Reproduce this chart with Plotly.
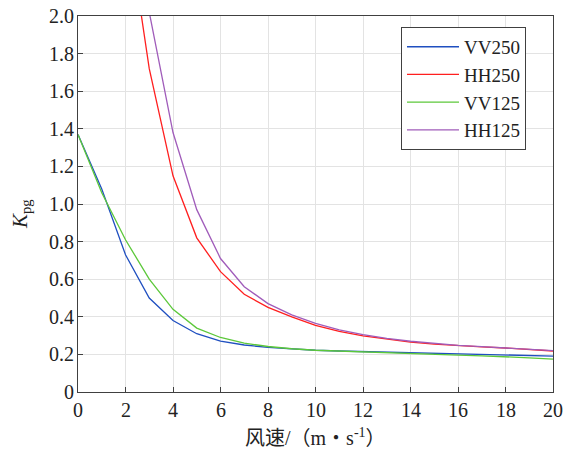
import plotly.graph_objects as go

wind = [0, 1, 2, 3, 4, 5, 6, 7, 8, 9, 10, 11, 12, 13, 14, 15, 16, 17, 18, 19, 20]
vv250 = [1.37, 1.08, 0.73, 0.50, 0.38, 0.31, 0.27, 0.25, 0.237, 0.228, 0.222, 0.218, 0.215, 0.212, 0.209, 0.206, 0.203, 0.200, 0.197, 0.194, 0.191]
hh250 = [None, None, 2.57, 1.72, 1.15, 0.82, 0.64, 0.52, 0.45, 0.40, 0.355, 0.322, 0.298, 0.280, 0.265, 0.255, 0.246, 0.240, 0.234, 0.227, 0.218]
vv125 = [1.37, 1.06, 0.81, 0.60, 0.44, 0.34, 0.29, 0.26, 0.242, 0.230, 0.222, 0.217, 0.213, 0.209, 0.205, 0.200, 0.196, 0.192, 0.188, 0.182, 0.175]
hh125 = [None, None, 3.00, 2.02, 1.38, 0.97, 0.71, 0.56, 0.47, 0.41, 0.365, 0.330, 0.305, 0.285, 0.270, 0.258, 0.248, 0.241, 0.235, 0.228, 0.220]

series = [
    ("VV250", vv250, "#1f4fc0"),
    ("HH250", hh250, "#ff1f1f"),
    ("VV125", vv125, "#5cc83a"),
    ("HH125", hh125, "#a05cba"),
]

x_ticks = [0, 2, 4, 6, 8, 10, 12, 14, 16, 18, 20]
x_tick_text = ["0", "2", "4", "6", "8", "10", "12", "14", "16", "18", "20"]
y_ticks = [0, 0.2, 0.4, 0.6, 0.8, 1.0, 1.2, 1.4, 1.6, 1.8, 2.0]
y_tick_text = ["0", "0.2", "0.4", "0.6", "0.8", "1.0", "1.2", "1.4", "1.6", "1.8", "2.0"]
x_title = "风速/（m・s<sup>-1</sup>）"
y_title = "<i>K</i><sub>pg</sub>"

serif = "Liberation Serif, Times New Roman, DejaVu Serif, serif"
text_color = "#222222"

fig = go.Figure()
for name, vals, color in series:
    fig.add_trace(go.Scatter(x=wind, y=vals, mode="lines", name=name,
                             line=dict(color=color, width=1.3)))

fig.update_layout(
    width=564, height=454,
    margin=dict(l=78, r=11, t=16, b=62),
    paper_bgcolor="white", plot_bgcolor="white",
    font=dict(family=serif, size=18, color=text_color),
    legend=dict(x=0.68, y=0.971, xanchor="left", yanchor="top",
                bgcolor="white", bordercolor="#404040", borderwidth=1,
                font=dict(family=serif, size=19, color=text_color),
                tracegroupgap=0, itemwidth=52),
    showlegend=True,
)

for upd in (fig.update_xaxes, fig.update_yaxes):
    upd(showline=True, linecolor="#404040", linewidth=1.3, mirror=True,
        showgrid=True, gridcolor="#e3e3e3", gridwidth=1,
        ticks="inside", ticklen=5, tickcolor="#404040", tickwidth=1,
        zeroline=False, showticklabels=False)

fig.update_xaxes(range=[0, 20], tickmode="array", tickvals=x_ticks)
fig.update_yaxes(range=[0, 2.0], tickmode="array", tickvals=y_ticks)

annotations = []
for v, t in zip(x_ticks, x_tick_text):
    annotations.append(dict(x=v, y=0, xref="x", yref="paper", text=t, showarrow=False,
                            xanchor="center", yanchor="top", yshift=-5,
                            font=dict(family=serif, size=20, color=text_color)))
for v, t in zip(y_ticks, y_tick_text):
    annotations.append(dict(x=0, y=v, xref="paper", yref="y", text=t, showarrow=False,
                            xanchor="right", yanchor="middle", xshift=-2,
                            font=dict(family=serif, size=20, color=text_color)))
annotations.append(dict(x=0.5, y=0, xref="paper", yref="paper", text=x_title,
                        showarrow=False, xanchor="center", yanchor="middle", yshift=-45,
                        font=dict(family="Liberation Serif, Noto Sans CJK SC, serif", size=20, color=text_color)))
annotations.append(dict(x=0, y=0.5, xref="paper", yref="paper", text=y_title,
                        showarrow=False, textangle=-90, xanchor="center", yanchor="middle",
                        xshift=-57, yshift=-10,
                        font=dict(family=serif, size=21, color=text_color)))
fig.update_layout(annotations=annotations)

fig.write_html("out.html",
               config={"displayModeBar": False},
               post_script="document.body.style.margin='0';document.body.style.overflow='hidden';")
